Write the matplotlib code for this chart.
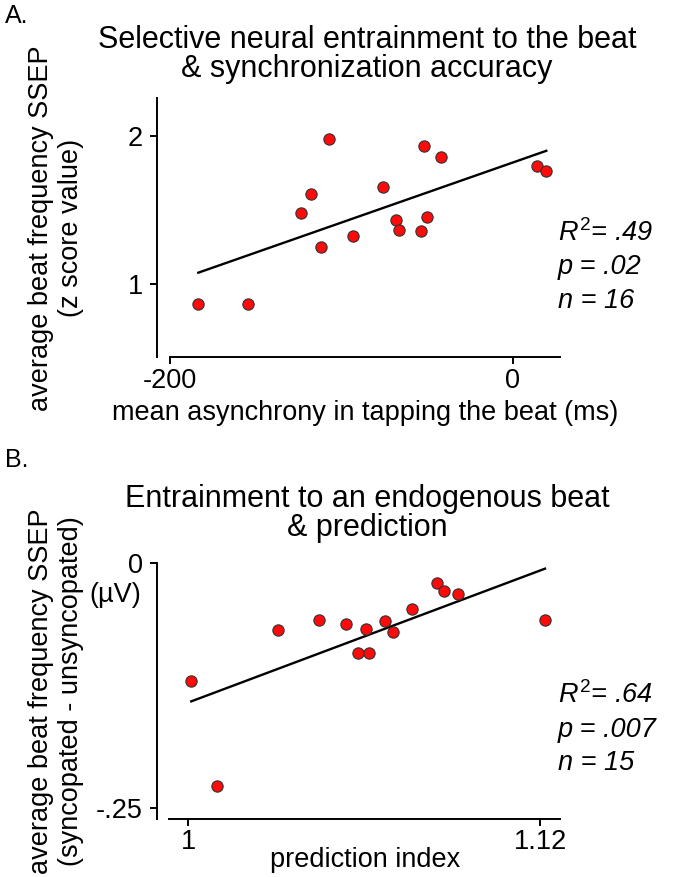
import matplotlib
matplotlib.use("Agg")
import matplotlib.pyplot as plt
import numpy as np

# two scatter panels with regression lines

# panel A: synchronization accuracy vs beat SSEP
asynchrony_ms = [-183.5, -154.7, -123.8, -117.8, -107.3, -111.8, -93.5, -75.8,
                 -68.4, -66.5, -53.6, -50.1, -51.7, -41.8, 14.2, 19.6]
ssep_z = [0.87, 0.866, 1.481, 1.609, 1.978, 1.253, 1.324, 1.653,
          1.434, 1.367, 1.356, 1.45, 1.933, 1.857, 1.797, 1.765]

# panel B: prediction index vs syncopated - unsyncopated SSEP
prediction_index = [1.001, 1.0098, 1.0306, 1.0446, 1.0539, 1.0605, 1.0578, 1.0617,
                    1.0671, 1.0699, 1.0762, 1.085, 1.0871, 1.0919, 1.1217]
ssep_diff = [-0.1204, -0.2269, -0.0682, -0.058, -0.0618, -0.0672, -0.0921, -0.0921,
             -0.0594, -0.0706, -0.0468, -0.0208, -0.0287, -0.0317, -0.0583]

stats_a = ["$R^2$= .49", "p = .02", "n = 16"]
stats_b = ["$R^2$= .64", "p = .007", "n = 15"]

plt.rcParams['font.family'] = ['Liberation Sans', 'DejaVu Sans']
plt.rcParams['mathtext.fontset'] = 'custom'
plt.rcParams['mathtext.rm'] = 'Liberation Sans'
plt.rcParams['mathtext.it'] = 'Liberation Sans:italic'
plt.rcParams['axes.unicode_minus'] = False

W, H = 675, 877
fig = plt.figure(figsize=(W / 100, H / 100), dpi=100)


def fx(px):
    return px / W


def fy(py):
    return 1 - py / H


def style_axes(ax, xbounds):
    for s in ['top', 'right']:
        ax.spines[s].set_visible(False)
    for s in ['left', 'bottom']:
        ax.spines[s].set_linewidth(1.4)
    ax.spines['bottom'].set_bounds(*xbounds)
    ax.tick_params(direction='out', length=5, width=1.4, labelsize=19.5)
    ax.tick_params(axis='y', pad=5)
    ax.tick_params(axis='x', pad=3)


def scatter_fit(ax, x, y):
    x = np.array(x)
    y = np.array(y)
    slope, icpt = np.polyfit(x, y, 1)
    xx = np.array([x.min(), x.max()])
    ax.plot(xx, slope * xx + icpt, color='black', lw=1.7, zorder=2)
    ax.scatter(x, y, s=66, color='#ff0a0a', edgecolor='#333333',
               linewidth=0.8, zorder=3, clip_on=False)


# ***panel A***
axA = fig.add_axes([fx(157), fy(357.3), fx(560) - fx(157), (357.3 - 98) / H])
scatter_fit(axA, asynchrony_ms, ssep_z)
axA.set_xlim(-207.6, 27.6)
axA.set_ylim(0.511, 2.252)
axA.set_xticks([-200, 0])
axA.set_yticks([1, 2])
style_axes(axA, (-200, 27.6))

# ***panel B***
axB = fig.add_axes([fx(156.7), fy(819.3), fx(560) - fx(156.7), (819.3 - 563) / H])
scatter_fit(axB, prediction_index, ssep_diff)
axB.set_xlim(0.98922, 1.12682)
axB.set_ylim(-0.2613, 0.0)
axB.set_xticks([1, 1.12])
axB.set_xticklabels(['1', '1.12'])
axB.set_yticks([0, -0.25])
axB.set_yticklabels(['0', '-.25'])
style_axes(axB, (0.99352, 1.12682))
axB.tick_params(axis='x', pad=2)

# titles and panel letters
fig.text(fx(5), fy(23), 'A.', fontsize=18, va='baseline')
fig.text(fx(367), fy(48), 'Selective neural entrainment to the beat',
         fontsize=22, ha='center', va='baseline')
fig.text(fx(367), fy(77), '& synchronization accuracy',
         fontsize=22, ha='center', va='baseline')

fig.text(fx(5), fy(467), 'B.', fontsize=18, va='baseline')
fig.text(fx(367), fy(507), 'Entrainment to an endogenous beat',
         fontsize=22, ha='center', va='baseline')
fig.text(fx(367), fy(536), '& prediction',
         fontsize=22, ha='center', va='baseline')

# axis labels
fig.text(fx(365), fy(420), 'mean asynchrony in tapping the beat (ms)',
         fontsize=19.5, ha='center', va='baseline')
fig.text(fx(365), fy(867), 'prediction index',
         fontsize=19.5, ha='center', va='baseline')
fig.text(fx(56), fy(228), 'average beat frequency SSEP\n(z score value)',
         fontsize=19.5, rotation=90, ha='center', va='center',
         multialignment='center')
fig.text(fx(56), fy(691), 'average beat frequency SSEP\n(syncopated - unsyncopated)',
         fontsize=19.5, rotation=90, ha='center', va='center',
         multialignment='center')
fig.text(fx(115), fy(595), '(µV)', fontsize=19.5, ha='center', va='center')

# stats
for txt, yb in zip(stats_a, [241, 274, 308]):
    fig.text(fx(558), fy(yb), txt, fontsize=19.5, style='italic', va='baseline')
for txt, yb in zip(stats_b, [703, 737, 770]):
    fig.text(fx(558), fy(yb), txt, fontsize=19.5, style='italic', va='baseline')

fig.savefig('out.png', dpi=100)
